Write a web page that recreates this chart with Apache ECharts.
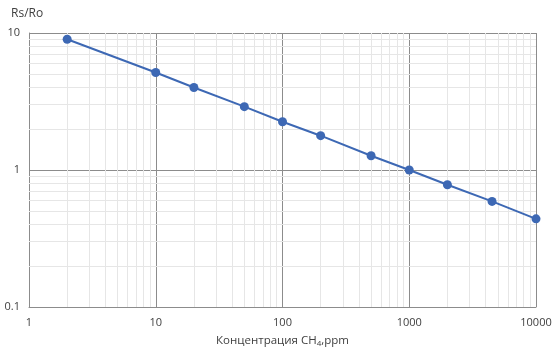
<!DOCTYPE html>
<html><head><meta charset="utf-8">
<script src="https://cdn.jsdelivr.net/npm/echarts@6/dist/echarts.min.js"></script>
<style>html,body{margin:0;padding:0;background:#fff}#c{width:560px;height:358px}</style>
</head><body><div id="c"></div>
<script>
const concentration = [2, 10, 20, 50, 100, 200, 500, 1000, 2000, 4500, 10000];
const rsRo = [9.0, 5.15, 4.0, 2.9, 2.25, 1.78, 1.27, 1.0, 0.78, 0.59, 0.44];
const xTicks = [1, 10, 100, 1000, 10000];
const yTicks = [0.1, 1, 10];

const minorX = [];
for (let d = 1; d < 10000; d *= 10) for (let k = 2; k <= 9; k++) minorX.push(d * k);
const minorY = [];
for (let d = 0.1; d < 9; d *= 10) for (let k = 2; k <= 9; k++) minorY.push(+(d * k).toPrecision(3));

const chart = echarts.init(document.getElementById('c'));
const font = 'Open Sans, sans-serif';
chart.setOption({
  animation: false,
  title: { text: 'Rs/Ro', left: 6, top: 3, textStyle: { fontSize: 12, fontWeight: 'normal', color: '#404040', fontFamily: font } },
  grid: { left: 29, right: 24, top: 33, bottom: 51 },
  xAxis: {
    type: 'log', logBase: 10, min: 1, max: 10000,
    name: 'Концентрация CH{s|4},ppm', nameLocation: 'middle', nameGap: 27,
    nameTextStyle: { fontSize: 11.5, color: '#404040', fontFamily: font, rich: { s: { fontSize: 8, verticalAlign: 'bottom', padding: [6, 0, 0, 0], color: '#404040', fontFamily: font } } },
    axisLine: { show: true, lineStyle: { color: '#8c8c8c' } },
    axisTick: { show: false },
    axisLabel: { fontSize: 11, color: '#404040', fontFamily: font, margin: 10, showMaxLabel: true, showMinLabel: true,
      formatter: v => { const r = Math.round(v); return xTicks.includes(r) ? String(r) : String(r); } },
    splitLine: { show: true, lineStyle: { color: '#8c8c8c', width: 1 } }
  },
  yAxis: {
    type: 'log', logBase: 10, min: 0.1, max: 10,
    axisLine: { show: true, lineStyle: { color: '#8c8c8c' } },
    axisTick: { show: false },
    axisLabel: { fontSize: 11, color: '#404040', fontFamily: font, margin: 9,
      formatter: v => { const r = +(+v).toPrecision(3); return yTicks.includes(r) ? String(r) : String(r); } },
    splitLine: { show: true, lineStyle: { color: '#8c8c8c', width: 1 } }
  },
  series: [
    {
      type: 'line', data: [], silent: true, z: 1,
      markLine: {
        silent: true, symbol: 'none', label: { show: false }, animation: false,
        lineStyle: { color: '#e6e6e6', width: 1, type: 'solid' },
        data: minorX.map(v => ({ xAxis: v })).concat(minorY.map(v => ({ yAxis: v })))
      }
    },
    {
      type: 'line', z: 5,
      data: concentration.map((c, i) => [c, rsRo[i]]),
      symbol: 'circle', symbolSize: 9,
      lineStyle: { color: '#3d68b4', width: 2 },
      itemStyle: { color: '#3d68b4' }
    }
  ]
});
</script></body></html>
